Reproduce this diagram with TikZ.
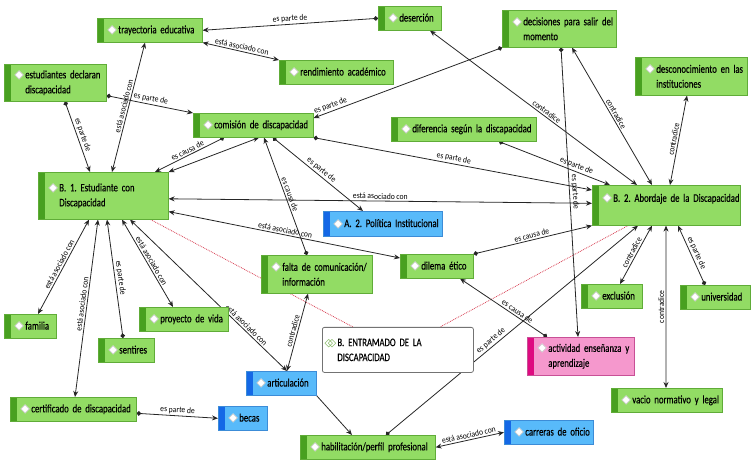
\documentclass[tikz,border=0pt]{standalone}
\usepackage{fontspec}
\setmainfont[FakeStretch=0.76, WordSpace=0.8, FakeBold=0.3]{Carlito}
\newfontfamily\linkfont[FakeStretch=0.9]{Carlito}
\newfontfamily\symfont{DejaVu Sans}
\usepackage{xcolor}
\usepackage{tikz}
\usetikzlibrary{arrows.meta}
\frenchspacing

\definecolor{verde}{RGB}{146,220,100}
\definecolor{verdeoscuro}{RGB}{72,160,32}
\definecolor{verdeborde}{RGB}{96,172,56}
\definecolor{azul}{RGB}{88,186,250}
\definecolor{azuloscuro}{RGB}{20,104,230}
\definecolor{azulborde}{RGB}{60,140,215}
\definecolor{rosa}{RGB}{245,152,205}
\definecolor{rosaoscuro}{RGB}{222,10,128}
\definecolor{rosaborde}{RGB}{200,80,150}
\definecolor{rojo}{RGB}{215,60,80}

\pgfdeclarelayer{fondo}
\pgfsetlayers{fondo,main}

\newcommand{\dia}{{\symfont\fontsize{12}{12}\selectfont\rlap{\textcolor{white}{◆}}\textcolor{black!25}{◇}}}
\newcommand{\dosdia}{{\symfont\fontsize{11}{11}\selectfont\textcolor{verde!80!black}{◇\kern-5bp◇}}}
\newcommand{\icono}[1]{\leftskip=21bp\rightskip=0pt plus 1fil\hyphenpenalty=10000\leavevmode\llap{\dia\hspace{1.5bp}}#1\par}

\begin{document}
\begin{tikzpicture}[x=1bp, y=-1bp, >={Stealth[length=6bp,width=5bp]},
    caja/.style={anchor=north west, inner xsep=0pt, inner ysep=3bp, font=\fontsize{11.5}{15}\selectfont, line width=0.6bp},
    franja/.style={path picture={\fill[#1] (path picture bounding box.south west) rectangle ([xshift=7bp]path picture bounding box.north west);}},
    cverde/.style={caja, draw=verdeborde, fill=verde, franja=verdeoscuro},
    cazul/.style={caja, draw=azulborde, fill=azul, franja=azuloscuro},
    crosa/.style={caja, draw=rosaborde, fill=rosa, franja=rosaoscuro},
    grupo/.style={caja, draw=black!55, fill=white, rounded corners=2bp, line width=0.8bp},
    enlace/.style={draw=black!85, line width=0.8bp},
    dirigido/.style={enlace, {Circle[length=4.5bp]}->},
    mutuo/.style={enlace, <->},
    flecha/.style={enlace, ->},
    punteado/.style={draw=rojo, densely dotted, line width=0.8bp},
    etiqueta/.style={font=\linkfont\fontsize{8.5}{9}\selectfont, sloped, above, inner sep=1.5bp}]
    \useasboundingbox (0,0) rectangle (752,464);

    \node[cverde, text width=105bp, minimum height=24bp] (trayectoria) at (97,18) {\icono{trayectoria educativa}};
    \node[cverde, text width=63bp, minimum height=24bp] (desercion) at (378,6) {\icono{deserción}};
    \node[cverde, text width=114bp, minimum height=37bp] (decisiones) at (502,10) {\icono{decisiones para salir del\newline momento}};
    \node[cverde, text width=114bp, minimum height=24bp] (rendimiento) at (279,60) {\icono{rendimiento académico}};
    \node[cverde, text width=102bp, minimum height=37bp] (estudiantes) at (4,64) {\icono{estudiantes declaran\newline discapacidad}};
    \node[cverde, text width=112bp, minimum height=38bp] (desconocimiento) at (635,57) {\icono{desconocimiento en las\newline instituciones}};
    \node[cverde, text width=120bp, minimum height=24bp] (comision) at (193,113) {\icono{comisión de discapacidad}};
    \node[cverde, text width=145bp, minimum height=24bp] (diferencia) at (391,117) {\icono{diferencia según la discapacidad}};
    \node[cverde, text width=130bp, minimum height=47bp] (estudiante) at (38,172) {\icono{B. 1. Estudiante con\newline Discapacidad}};
    \node[cverde, text width=148bp, minimum height=40bp] (abordaje) at (592,185) {\icono{B. 2. Abordaje de la Discapacidad\newline\mbox{}}};
    \node[cazul, text width=119bp, minimum height=25bp] (politica) at (323,211) {\icono{A. 2. Política Institucional}};
    \node[cverde, text width=111bp, minimum height=38bp] (falta) at (261,255) {\icono{falta de comunicación/\newline información}};
    \node[cverde, text width=73bp, minimum height=24bp] (dilema) at (400,254) {\icono{dilema ético}};
    \node[cverde, text width=61bp, minimum height=24bp] (exclusion) at (581,284) {\icono{exclusión}};
    \node[cverde, text width=70bp, minimum height=24bp] (universidad) at (680,285) {\icono{universidad}};
    \node[cverde, text width=52bp, minimum height=24bp] (familia) at (4,314) {\icono{familia}};
    \node[cverde, text width=89bp, minimum height=24bp] (proyecto) at (139,307) {\icono{proyecto de vida}};
    \node[cverde, text width=56bp, minimum height=24bp] (sentires) at (98,338) {\icono{sentires}};
    \node[grupo, text width=151bp, minimum height=45bp] (entramado) at (322,327) {\leftskip=15bp\rightskip=0pt plus 1fil\leavevmode\llap{\dosdia\hspace{1bp}}B. ENTRAMADO DE LA\newline DISCAPACIDAD\par};
    \node[cazul, text width=70bp, minimum height=24bp] (articulacion) at (246,371) {\icono{articulación}};
    \node[crosa, text width=107bp, minimum height=38bp] (actividad) at (527,337) {\icono{actividad enseñanza y\newline aprendizaje}};
    \node[cverde, text width=126bp, minimum height=24bp] (certificado) at (10,397) {\icono{certificado de discapacidad}};
    \node[cazul, text width=49bp, minimum height=24bp] (becas) at (218,406) {\icono{becas}};
    \node[cverde, text width=111bp, minimum height=24bp] (vacio) at (611,388) {\icono{vacio normativo y legal}};
    \node[cverde, text width=135bp, minimum height=24bp] (habilitacion) at (300,435) {\icono{habilitación/perfil profesional}};
    \node[cazul, text width=89bp, minimum height=24bp] (carreras) at (504,420) {\icono{carreras de oficio}};

    \begin{pgfonlayer}{fondo}
    \draw[punteado] ([xshift=-18bp]estudiante.south east) -- ([xshift=31bp]entramado.north west);
    \draw[punteado] ([xshift=36bp]abordaje.south west) -- ([xshift=118bp]entramado.north west);

    \draw[dirigido] (desercion.west) -- node[etiqueta] {es parte de} (trayectoria.east);
    \draw[mutuo] (trayectoria.south east) -- node[etiqueta] {está asociado con} (rendimiento.north west);
    \draw[dirigido] ([yshift=6bp]estudiantes.south east) -- node[etiqueta] {es parte de} (comision.north west);
    \draw[dirigido] ([xshift=61bp]estudiantes.south west) -- node[etiqueta] {es parte de} ([xshift=52bp]estudiante.north west);
    \draw[mutuo] ([xshift=48bp]trayectoria.south west) -- node[etiqueta] {está asociado con} ([xshift=74bp]estudiante.north west);
    \draw[dirigido] ([xshift=31bp]comision.south west) -- node[etiqueta] {es causa de} ([xshift=117bp]estudiante.north west);
    \draw[mutuo] ([xshift=66bp]comision.south west) -- (estudiante.north east);
    \draw[dirigido] ([xshift=46bp]falta.north west) -- node[etiqueta] {es causa de} ([xshift=71bp]comision.south west);
    \draw[dirigido] ([xshift=80bp]comision.south west) -- node[etiqueta] {es parte de} ([xshift=40bp]politica.north west);
    \draw[mutuo] ([yshift=-3bp]estudiante.east) -- node[etiqueta] {está asociado con} ([yshift=2bp]abordaje.west);
    \draw[dirigido] (comision.south east) -- node[etiqueta] {es parte de} ([yshift=-5bp]abordaje.north west);
    \draw[dirigido] (decisiones.south west) -- node[etiqueta, pos=0.9] {es parte de} ([yshift=-5bp]comision.north east);
    \draw[mutuo] ([xshift=52bp]desercion.south west) -- node[etiqueta, pos=0.55] {contradice} ([xshift=45bp]abordaje.north west);
    \draw[mutuo] ([xshift=70bp]decisiones.south west) -- node[etiqueta] {contradice} ([xshift=60bp]abordaje.north west);
    \draw[mutuo] ([xshift=52bp]desconocimiento.south west) -- node[etiqueta] {contradice} ([xshift=78bp]abordaje.north west);
    \draw[dirigido] ([xshift=108bp]diferencia.south west) -- node[etiqueta, pos=0.68] {es parte de} ([xshift=18bp]abordaje.north west);
    \draw[dirigido] ([xshift=59bp]decisiones.south west) -- node[etiqueta] {es parte de} ([xshift=51bp]actividad.north west);
    \draw[dirigido] (dilema.north east) -- node[etiqueta] {es causa de} (abordaje.south west);
    \draw[dirigido] ([xshift=20bp]actividad.north west) -- node[etiqueta, pos=0.37] {es causa de} ([xshift=60bp]dilema.south west);
    \draw[dirigido] ([xshift=86bp]habilitacion.north west) -- node[etiqueta, pos=0.43] {es parte de} ([xshift=46bp]abordaje.south west);
    \draw[mutuo] ([xshift=39bp]exclusion.north west) -- node[etiqueta] {contradice} ([xshift=60bp]abordaje.south west);
    \draw[mutuo] ([xshift=74bp]abordaje.south west) -- node[etiqueta] {contradice} ([xshift=55bp]vacio.north west);
    \draw[dirigido] ([xshift=25bp]universidad.north west) -- node[etiqueta] {es parte de} ([xshift=86bp]abordaje.south west);
    \draw[mutuo] ([yshift=8bp]estudiante.south east) -- node[etiqueta] {está asociado con} ([yshift=-4bp]dilema.north west);
    \draw[mutuo] ([xshift=51bp]estudiante.south west) -- node[etiqueta] {está asociado con} ([xshift=34bp]familia.north west);
    \draw[mutuo] ([xshift=60bp]estudiante.south west) -- node[etiqueta, pos=0.48] {está asociado con} ([xshift=65bp]certificado.north west);
    \draw[dirigido] ([xshift=25bp]sentires.north west) -- node[etiqueta] {es parte de} ([xshift=69bp]estudiante.south west);
    \draw[mutuo] ([xshift=84bp]estudiante.south west) -- node[etiqueta] {está asociado con} ([xshift=34bp]proyecto.north west);
    \draw[mutuo] ([xshift=92bp]estudiante.south west) -- node[etiqueta, pos=0.72] {está asociado con} ([xshift=41bp]articulacion.north west);
    \draw[mutuo] ([xshift=41bp]articulacion.north west) -- node[etiqueta] {contradice} ([xshift=47bp]falta.south west);
    \draw[dirigido] ([yshift=-4bp]certificado.east) -- node[etiqueta] {es parte de} (becas.west);
    \draw[flecha] (articulacion.south east) -- ([xshift=52bp]habilitacion.north west);
    \draw[mutuo] (habilitacion.east) -- node[etiqueta] {está asociado con} (carreras.west);
    \end{pgfonlayer}
\end{tikzpicture}
\end{document}
